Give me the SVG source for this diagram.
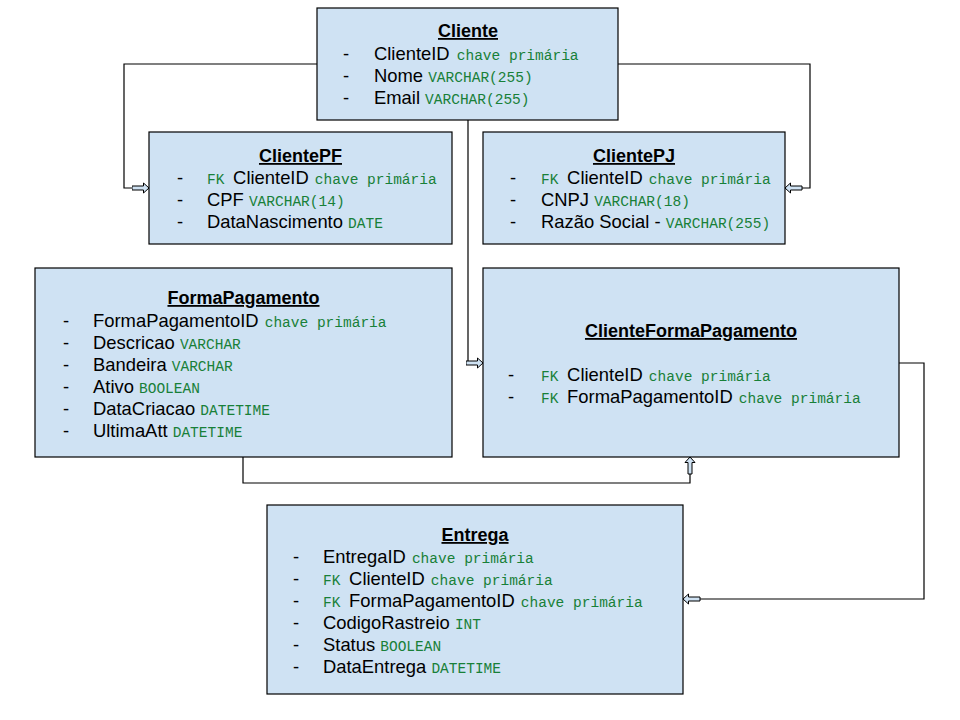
<svg xmlns="http://www.w3.org/2000/svg" width="960" height="720" viewBox="0 0 960 720">
<style>
.box{fill:#cfe2f3;stroke:#000;stroke-width:1.2}
.t{font-family:"Liberation Sans",Arial,sans-serif;font-size:18px;font-weight:bold;text-decoration:underline;text-anchor:middle;fill:#000}
.r{font-family:"Liberation Sans",Arial,sans-serif;font-size:18.4px;fill:#000}
.m{font-family:"Liberation Mono","DejaVu Sans Mono",monospace;font-size:14.5px;fill:#188038}
.c{fill:none;stroke:#000;stroke-width:1.2}
</style>
<defs>
<marker id="blk" markerUnits="userSpaceOnUse" viewBox="0 0 18 12" refX="17.5" refY="6" markerWidth="18" markerHeight="12" orient="auto">
<path d="M0.5,4 H12 V1 L17.5,6 L12,11 V8 H0.5 Z" fill="#cfe2f3" stroke="#000" stroke-width="1"/>
</marker>
</defs>
<g id="connectors">
<path class="c" marker-end="url(#blk)" d="M317,64 H124 V188 H149"/>
<path class="c" marker-end="url(#blk)" d="M618,64 H810 V188 H785"/>
<path class="c" marker-end="url(#blk)" d="M468,120 V363 H483"/>
<path class="c" marker-end="url(#blk)" d="M243,457 V483 H690 V457"/>
<path class="c" marker-end="url(#blk)" d="M899,363 H924 V599 H683"/>
</g>
<g id="Cliente">
<rect class="box" x="317" y="8" width="301" height="112"/>
<text class="t" x="468" y="37">Cliente</text>
<text class="r" x="343" y="60">-</text><text class="r" x="374" y="60">ClienteID <tspan class="m" dx="2">chave primária</tspan></text>
<text class="r" x="343" y="82">-</text><text class="r" x="374" y="82">Nome <tspan class="m">VARCHAR(255)</tspan></text>
<text class="r" x="343" y="104">-</text><text class="r" x="374" y="104">Email <tspan class="m">VARCHAR(255)</tspan></text>
</g>
<g id="ClientePF">
<rect class="box" x="149" y="132" width="303" height="112"/>
<text class="t" x="300.5" y="162">ClientePF</text>
<text class="r" x="177" y="184">-</text><text class="m" x="207" y="184">FK <tspan class="r">ClienteID </tspan><tspan dx="1">chave primária</tspan></text>
<text class="r" x="177" y="206">-</text><text class="r" x="207" y="206">CPF <tspan class="m">VARCHAR(14)</tspan></text>
<text class="r" x="177" y="228">-</text><text class="r" x="207" y="228">DataNascimento <tspan class="m">DATE</tspan></text>
</g>
<g id="ClientePJ">
<rect class="box" x="483" y="132" width="302" height="112"/>
<text class="t" x="634" y="162">ClientePJ</text>
<text class="r" x="510" y="184">-</text><text class="m" x="541" y="184">FK <tspan class="r">ClienteID </tspan><tspan dx="1">chave primária</tspan></text>
<text class="r" x="510" y="206">-</text><text class="r" x="541" y="206">CNPJ <tspan class="m">VARCHAR(18)</tspan></text>
<text class="r" x="510" y="228">-</text><text class="r" x="541" y="228">Razão Social - <tspan class="m">VARCHAR(255)</tspan></text>
</g>
<g id="FormaPagamento">
<rect class="box" x="35" y="268" width="417" height="189"/>
<text class="t" x="243.5" y="304">FormaPagamento</text>
<text class="r" x="63" y="327">-</text><text class="r" x="93" y="327">FormaPagamentoID <tspan class="m" dx="1">chave primária</tspan></text>
<text class="r" x="63" y="349">-</text><text class="r" x="93" y="349">Descricao <tspan class="m">VARCHAR</tspan></text>
<text class="r" x="63" y="371">-</text><text class="r" x="93" y="371">Bandeira <tspan class="m">VARCHAR</tspan></text>
<text class="r" x="63" y="393">-</text><text class="r" x="93" y="393">Ativo <tspan class="m">BOOLEAN</tspan></text>
<text class="r" x="63" y="415">-</text><text class="r" x="93" y="415">DataCriacao <tspan class="m">DATETIME</tspan></text>
<text class="r" x="63" y="437">-</text><text class="r" x="93" y="437">UltimaAtt <tspan class="m">DATETIME</tspan></text>
</g>
<g id="ClienteFormaPagamento">
<rect class="box" x="483" y="268" width="416" height="189"/>
<text class="t" x="691" y="337">ClienteFormaPagamento</text>
<text class="r" x="508" y="381">-</text><text class="m" x="541" y="381">FK <tspan class="r">ClienteID </tspan><tspan dx="1">chave primária</tspan></text>
<text class="r" x="508" y="403">-</text><text class="m" x="541" y="403">FK <tspan class="r">FormaPagamentoID </tspan><tspan dx="1">chave primária</tspan></text>
</g>
<g id="Entrega">
<rect class="box" x="267" y="505" width="416" height="189"/>
<text class="t" x="475" y="541">Entrega</text>
<text class="r" x="293" y="563">-</text><text class="r" x="323" y="563">EntregaID <tspan class="m" dx="1">chave primária</tspan></text>
<text class="r" x="293" y="585">-</text><text class="m" x="323" y="585">FK <tspan class="r">ClienteID </tspan><tspan dx="1">chave primária</tspan></text>
<text class="r" x="293" y="607">-</text><text class="m" x="323" y="607">FK <tspan class="r">FormaPagamentoID </tspan><tspan dx="1">chave primária</tspan></text>
<text class="r" x="293" y="629">-</text><text class="r" x="323" y="629">CodigoRastreio <tspan class="m">INT</tspan></text>
<text class="r" x="293" y="651">-</text><text class="r" x="323" y="651">Status <tspan class="m">BOOLEAN</tspan></text>
<text class="r" x="293" y="673">-</text><text class="r" x="323" y="673">DataEntrega <tspan class="m">DATETIME</tspan></text>
</g>
</svg>
